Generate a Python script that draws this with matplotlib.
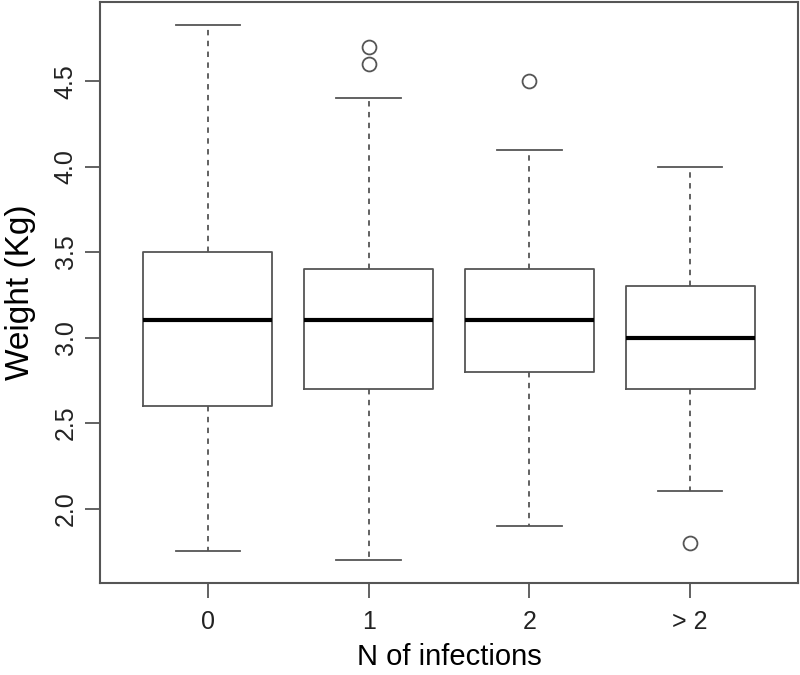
import matplotlib
matplotlib.use("Agg")
import matplotlib.pyplot as plt

categorias = ["0", "1", "2", "> 2"]
q1 = [2.6, 2.7, 2.8, 2.7]
medianas = [3.1, 3.1, 3.1, 3.0]
q3 = [3.5, 3.4, 3.4, 3.3]
bigode_inf = [1.75, 1.70, 1.90, 2.10]
bigode_sup = [4.83, 4.40, 4.10, 4.00]
outliers = [[], [4.6, 4.7], [4.5], [1.8]]

plt.rcParams["font.family"] = ["Liberation Sans", "DejaVu Sans"]

stats = []
for i in range(len(categorias)):
    stats.append({"label": categorias[i], "q1": q1[i], "med": medianas[i], "q3": q3[i],
                  "whislo": bigode_inf[i], "whishi": bigode_sup[i], "fliers": outliers[i]})

fig = plt.figure(figsize=(8, 6.75), dpi=100)
ax = fig.add_axes([0.125, 0.137, 0.8725, 0.86])

cinza = "#555555"
ax.bxp(stats, positions=[1, 2, 3, 4], widths=0.8, showfliers=True,
       boxprops=dict(color=cinza, linewidth=1.3),
       medianprops=dict(color="black", linewidth=3),
       whiskerprops=dict(color=cinza, linewidth=1.3, linestyle=(0, (3, 3))),
       capprops=dict(color=cinza, linewidth=1.3),
       capwidths=0.4,
       flierprops=dict(marker="o", markerfacecolor="none", markeredgecolor=cinza,
                       markersize=10, markeredgewidth=1.3))

ax.set_xlim(0.33, 4.67)
ax.set_ylim(1.567, 4.963)
ax.set_yticks([2.0, 2.5, 3.0, 3.5, 4.0, 4.5])
ax.set_yticklabels(["2.0", "2.5", "3.0", "3.5", "4.0", "4.5"], rotation=90, va="center")
ax.set_xticks([1, 2, 3, 4])
ax.set_xticklabels(categorias)
ax.tick_params(axis="both", direction="out", length=11, width=1.3, colors=cinza,
               labelcolor="#222222", labelsize=18)
ax.tick_params(axis="x", pad=9)
ax.tick_params(axis="y", pad=5)
for s in ax.spines.values():
    s.set_color(cinza)
    s.set_linewidth(1.5)

ax.set_xlabel("N of infections", fontsize=21, labelpad=6)
ax.set_ylabel("Weight (Kg)", fontsize=24, labelpad=13)

fig.savefig("out.png", dpi=100)
